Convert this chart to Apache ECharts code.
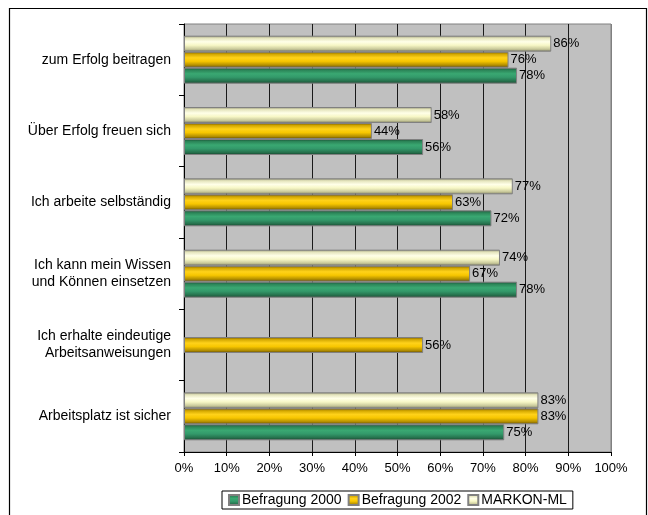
<!DOCTYPE html>
<html>
<head>
<meta charset="utf-8">
<script src="https://cdn.jsdelivr.net/npm/echarts@6/dist/echarts.min.js"></script>
<style>
  html, body { margin: 0; padding: 0; background: #fff; }
  #chart { width: 648px; height: 515px; }
</style>
</head>
<body>
<div id="chart"></div>
<script>
// Categories listed top to bottom as in the picture
const categories = [
  "zum Erfolg beitragen",
  "Über Erfolg freuen sich",
  "Ich arbeite selbständig",
  "Ich kann mein Wissen\nund Können einsetzen",
  "Ich erhalte eindeutige\nArbeitsanweisungen",
  "Arbeitsplatz ist sicher"
];
const befragung2000 = [78, 56, 72, 78, null, 75];
const befragung2002 = [76, 44, 63, 67, 56, 83];
const markonML      = [86, 58, 77, 74, null, 83];
const seriesNames = ["Befragung 2000", "Befragung 2002", "MARKON-ML"];
const xTicks = [0, 10, 20, 30, 40, 50, 60, 70, 80, 90, 100];

const FONT = "Arial, 'Liberation Sans', sans-serif";

function grad(stops) {
  return {
    type: 'linear', x: 0, y: 0, x2: 0, y2: 1,
    colorStops: stops.map(s => ({ offset: s[0], color: s[1] }))
  };
}
const greenGrad = grad([[0,'#184a30'],[0.15,'#2b8457'],[0.38,'#3aa872'],[0.6,'#33996a'],[0.85,'#256f4b'],[1,'#153f29']]);
const orangeGrad = grad([[0,'#6e5200'],[0.15,'#d1a600'],[0.38,'#ffd21a'],[0.6,'#f7c600'],[0.85,'#b08c00'],[1,'#5a4300']]);
const creamGrad = grad([[0,'#8a8a6e'],[0.15,'#e3e3bb'],[0.38,'#ffffe8'],[0.6,'#f7f7c6'],[0.85,'#c6c698'],[1,'#77775e']]);

const rev = a => a.slice().reverse();

const labelCfg = {
  show: true, position: 'right', distance: 2,
  formatter: p => p.value + '%',
  color: '#000', fontSize: 13, fontFamily: FONT
};

function mkSeries(name, data, color) {
  return {
    name: name, type: 'bar', data: rev(data),
    barWidth: 16, barGap: '0%',
    itemStyle: { color: color, borderColor: '#808080', borderWidth: 1 },
    label: labelCfg,
    emphasis: { disabled: true },
    animation: false
  };
}

const chart = echarts.init(document.getElementById('chart'), null, { renderer: 'canvas' });
chart.setOption({
  animation: false,
  backgroundColor: '#ffffff',
  textStyle: { fontFamily: FONT },
  graphic: [{
    type: 'rect',
    shape: { x: 9.5, y: 8.5, width: 637, height: 600 },
    style: { fill: 'none', stroke: '#000', lineWidth: 1.2 },
    silent: true, z: -10
  }],
  grid: {
    left: 184, right: 37, top: 24, bottom: 63,
    show: true, backgroundColor: '#C0C0C0', borderColor: '#808080', borderWidth: 1
  },
  legend: {
    left: 222, top: 491,
    data: seriesNames,
    itemWidth: 10, itemHeight: 10, itemGap: 6,
    padding: [2, 6, 2, 6],
    borderColor: '#000', borderWidth: 1, backgroundColor: '#fff',
    textStyle: { fontSize: 14, color: '#000', fontFamily: FONT, padding: [0, 0, 0, -2] },
    icon: 'rect'
  },
  xAxis: {
    type: 'value', min: 0, max: 100, interval: 10,
    axisLine: { show: true, lineStyle: { color: '#000', width: 1 } },
    axisTick: { show: true, length: 4, lineStyle: { color: '#000' } },
    axisLabel: { formatter: v => v + '%', color: '#000', fontSize: 13, fontFamily: FONT, margin: 10 },
    splitLine: { show: true, lineStyle: { color: xTicks.map((t, i) => i === xTicks.length - 1 ? '#808080' : '#1a1a1a'), width: 1 } }
  },
  yAxis: {
    type: 'category', data: rev(categories),
    axisLine: { show: true, lineStyle: { color: '#000', width: 1 } },
    axisTick: { show: true, length: 5, lineStyle: { color: '#000' } },
    axisLabel: { color: '#000', fontSize: 14, fontFamily: FONT, margin: 13, lineHeight: 17, align: 'right' },
    splitLine: { show: false }
  },
  series: [
    mkSeries(seriesNames[2], markonML, creamGrad),
    mkSeries(seriesNames[1], befragung2002, orangeGrad),
    mkSeries(seriesNames[0], befragung2000, greenGrad)
  ]
});
</script>
</body>
</html>
